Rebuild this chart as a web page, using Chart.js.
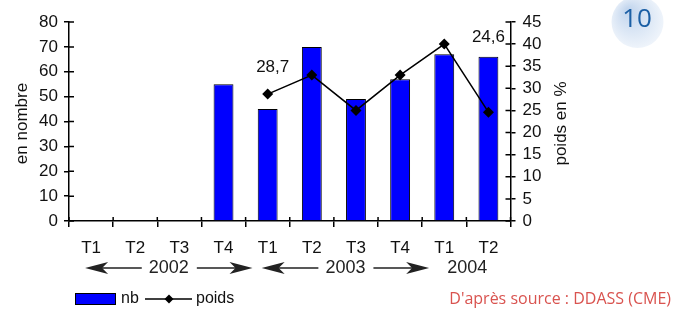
<!DOCTYPE html>
<html>
<head>
<meta charset="utf-8">
<script src="https://cdn.jsdelivr.net/npm/chart.js@4.4.1/dist/chart.umd.min.js"></script>
<style>
  html, body { margin: 0; padding: 0; background: #fff; }
</style>
</head>
<body>
<canvas id="chart" width="683" height="311"></canvas>
<script>
// data
const quarters = ['T1', 'T2', 'T3', 'T4', 'T1', 'T2', 'T3', 'T4', 'T1', 'T2'];
const nb = [null, null, null, 55, 45, 70, 49, 57, 67, 66];
const poids = [null, null, null, null, 28.7, 33, 25, 33, 40, 24.6];
const labelledPoints = [4, 9];

const yearLabels = ['2002', '2003', '2004'];
const yearStart = [0, 4, 8];
const yearEnd = [3, 7, 9];
const yearArrows = [true, true, false];

const leftTicks = { min: 0, max: 80, step: 10 };
const rightTicks = { min: 0, max: 45, step: 5 };

const FONT = "'Liberation Sans', Arial, sans-serif";
Chart.defaults.font.family = FONT;
Chart.defaults.font.size = 17;
Chart.defaults.color = '#111';

function fr(v) {
  return String(v).replace('.', ',');
}

const decor = {
  id: 'decor',
  afterDraw(chart) {
    const ctx = chart.ctx;
    const area = chart.chartArea;
    const x = chart.scales.x, yL = chart.scales.y, yR = chart.scales.y1;
    ctx.save();

    // inner halves of the cross tick marks
    ctx.strokeStyle = '#000';
    ctx.lineWidth = 1.5;
    ctx.beginPath();
    yL.ticks.forEach(t => {
      const py = yL.getPixelForValue(t.value);
      ctx.moveTo(area.left, py); ctx.lineTo(area.left + 5, py);
    });
    yR.ticks.forEach(t => {
      const py = yR.getPixelForValue(t.value);
      ctx.moveTo(area.right, py); ctx.lineTo(area.right - 5, py);
    });
    const step = area.width / quarters.length;
    for (let i = 0; i <= quarters.length; i++) {
      const px = area.left + i * step;
      ctx.moveTo(px, area.bottom); ctx.lineTo(px, area.bottom - 4);
    }
    ctx.stroke();

    // axis titles (both read bottom to top)
    ctx.fillStyle = '#111';
    ctx.font = '17px ' + FONT;
    ctx.textAlign = 'center';
    ctx.textBaseline = 'middle';
    const vText = (txt, cx, cy) => {
      ctx.save();
      ctx.translate(cx, cy);
      ctx.rotate(-Math.PI / 2);
      ctx.fillText(txt, 0, 0);
      ctx.restore();
    };
    const midY = (area.top + area.bottom) / 2 + 2;
    vText('en nombre', area.left - 47, midY);
    vText('poids en %', area.right + 51, midY);

    // value labels on the line
    const meta = chart.getDatasetMeta(0);
    const offs = [[5, -27], [0, -75]];
    labelledPoints.forEach((i, k) => {
      const p = meta.data[i];
      ctx.fillText(fr(poids[i]), p.x + offs[k][0], p.y + offs[k][1]);
    });

    // years with arrows
    const yy = 268;
    ctx.font = '18px ' + FONT;
    ctx.strokeStyle = '#222';
    ctx.fillStyle = '#222';
    const head = (tx, dir) => {
      ctx.beginPath();
      ctx.moveTo(tx, yy);
      ctx.lineTo(tx - dir * 23, yy - 6);
      ctx.lineTo(tx - dir * 17, yy);
      ctx.lineTo(tx - dir * 23, yy + 6);
      ctx.closePath();
      ctx.fill();
    };
    yearLabels.forEach((lab, k) => {
      const a = x.getPixelForValue(yearStart[k]);
      const b = x.getPixelForValue(yearEnd[k]);
      if (yearArrows[k]) {
        const l = a - 6, r = b + 29, mid = (l + r) / 2;
        const w = ctx.measureText(lab).width;
        ctx.fillText(lab, mid, yy);
        ctx.lineWidth = 1.3;
        ctx.beginPath();
        ctx.moveTo(l + 10, yy); ctx.lineTo(mid - w / 2 - 7, yy);
        ctx.moveTo(mid + w / 2 + 8, yy); ctx.lineTo(r - 10, yy);
        ctx.stroke();
        head(l, -1);
        head(r, 1);
      } else {
        ctx.fillText(lab, (a + b) / 2 + 1, yy);
      }
    });

    // legend
    const ly = 299;
    ctx.fillStyle = '#0000ff';
    ctx.fillRect(75, ly - 6, 41, 12);
    ctx.strokeStyle = '#000';
    ctx.lineWidth = 1;
    ctx.strokeRect(75.5, ly - 5.5, 40, 11);
    ctx.fillStyle = '#111';
    ctx.font = '16px ' + FONT;
    ctx.textAlign = 'left';
    ctx.fillText('nb', 121, ly);
    ctx.lineWidth = 1.5;
    ctx.beginPath();
    ctx.moveTo(145, ly); ctx.lineTo(192, ly);
    ctx.stroke();
    ctx.beginPath();
    ctx.moveTo(169, ly - 4.5); ctx.lineTo(173.5, ly); ctx.lineTo(169, ly + 4.5); ctx.lineTo(164.5, ly);
    ctx.closePath();
    ctx.fillStyle = '#000';
    ctx.fill();
    ctx.fillStyle = '#111';
    ctx.fillText('poids', 196, ly);

    // source
    ctx.fillStyle = '#d9534f';
    ctx.font = "16px 'Open Sans', sans-serif";
    ctx.textAlign = 'right';
    ctx.fillText("D'après source : DDASS (CME)", 671, ly);

    // page badge
    const g = ctx.createRadialGradient(628, 10, 2, 637, 22, 30);
    g.addColorStop(0, '#c3d6ee');
    g.addColorStop(1, '#f3f7fc');
    ctx.fillStyle = g;
    ctx.beginPath();
    ctx.arc(637.5, 22, 26, 0, Math.PI * 2);
    ctx.fill();
    ctx.fillStyle = '#1b5fa5';
    ctx.font = "26px 'Open Sans', sans-serif";
    ctx.textAlign = 'center';
    ctx.fillText('10', 637, 20);

    ctx.restore();
  }
};

new Chart(document.getElementById('chart'), {
  type: 'bar',
  data: {
    labels: quarters,
    datasets: [
      {
        type: 'line',
        label: 'poids',
        data: poids,
        yAxisID: 'y1',
        borderColor: '#000',
        borderWidth: 1.5,
        backgroundColor: '#000',
        pointStyle: 'rectRot',
        pointRadius: 5.5,
        pointBackgroundColor: '#000',
        pointBorderWidth: 0,
        tension: 0,
        order: 0
      },
      {
        label: 'nb',
        data: nb,
        yAxisID: 'y',
        backgroundColor: '#0000ff',
        borderColor: '#000',
        borderWidth: 1,
        categoryPercentage: 1,
        barPercentage: 0.45,
        order: 1
      }
    ]
  },
  options: {
    responsive: false,
    animation: false,
    events: [],
    layout: { padding: { top: 22, left: 0, right: 0, bottom: 0 } },
    plugins: {
      legend: { display: false },
      tooltip: { enabled: false }
    },
    scales: {
      x: {
        grid: { drawOnChartArea: false, color: '#000', lineWidth: 1.5, tickLength: 6 },
        border: { color: '#000', width: 1.5 },
        ticks: { padding: 11, maxRotation: 0, autoSkip: false, color: '#111' },
        afterFit(scale) { scale.height = 90; }
      },
      y: {
        position: 'left',
        min: leftTicks.min,
        max: leftTicks.max,
        ticks: { stepSize: leftTicks.step, padding: 6, autoSkip: false, color: '#111' },
        grid: { drawOnChartArea: false, color: '#000', lineWidth: 1.5, tickLength: 5 },
        border: { color: '#000', width: 1.5 },
        afterFit(scale) { scale.width = 69; }
      },
      y1: {
        position: 'right',
        min: rightTicks.min,
        max: rightTicks.max,
        ticks: { stepSize: rightTicks.step, padding: 7, autoSkip: false, color: '#111' },
        grid: { drawOnChartArea: false, color: '#000', lineWidth: 1.5, tickLength: 5 },
        border: { color: '#000', width: 1.5 },
        afterFit(scale) { scale.width = 172.5; }
      }
    }
  },
  plugins: [decor]
});
</script>
</body>
</html>
